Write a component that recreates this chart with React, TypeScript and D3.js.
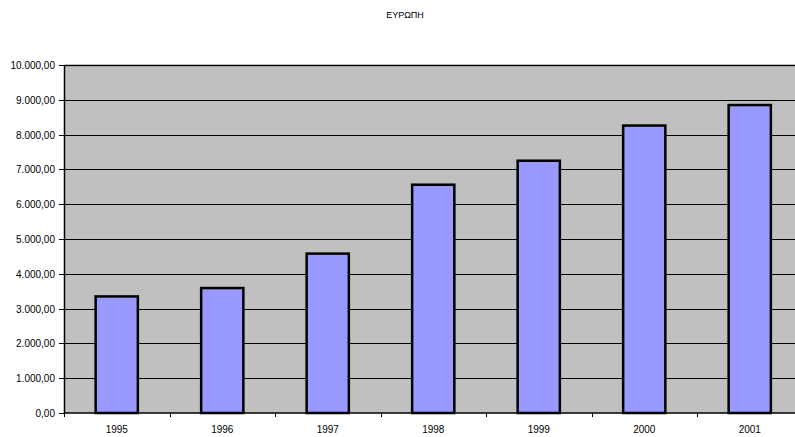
import React from 'react';
import * as d3 from 'd3';

const years = ['1995', '1996', '1997', '1998', '1999', '2000', '2001'];
const values = [3350, 3590, 4580, 6560, 7250, 8260, 8850];
const yTicks = [0, 1000, 2000, 3000, 4000, 5000, 6000, 7000, 8000, 9000, 10000];

const W = 795;
const H = 437;
// plot area runs slightly past the right edge of the picture
const margin = { top: 65, left: 64, bottom: 24 };
const innerW = 738.5;

const locale = d3.formatLocale({ decimal: ',', thousands: '.', grouping: [3], currency: ['', ''] });
const fmt = locale.format(',.2f');

export default function App() {
  const innerH = H - margin.top - margin.bottom;

  const xOuter = d3.scaleBand().domain(years).range([0, innerW]);
  const x = d3.scaleBand().domain(years).range([0, innerW]).paddingInner(0.6).paddingOuter(0.3);
  const y = d3.scaleLinear().domain([0, 10000]).range([innerH, 0]);

  return (
    <svg
      width={W}
      height={H}
      style={{ position: 'absolute', left: 0, top: 0, fontFamily: 'Arial, "Liberation Sans", sans-serif' }}
    >
      <rect width={W} height={H} fill="#fff" />
      <text x={405} y={18} textAnchor="middle" fontSize={9} fill="#000">ΕΥΡΩΠΗ</text>
      <g transform={`translate(${margin.left},${margin.top})`}>
        <rect width={innerW} height={innerH} fill="#c0c0c0" />
        <line x1={0} x2={innerW} y1={0.5} y2={0.5} stroke="#808080" strokeWidth={2} />
        {yTicks.slice(1).map(t => (
          <line key={t} x1={0} x2={innerW} y1={Math.round(y(t)) + 0.5} y2={Math.round(y(t)) + 0.5} stroke="#000" strokeWidth={1} />
        ))}
        {years.map((yr, i) => (
          <rect
            key={yr}
            x={x(yr)}
            y={y(values[i])}
            width={x.bandwidth()}
            height={innerH - y(values[i])}
            fill="#9999ff"
            stroke="#000"
            strokeWidth={2.5}
          />
        ))}
        {/* y axis */}
        <line x1={0.5} x2={0.5} y1={0} y2={innerH} stroke="#000" strokeWidth={1.5} />
        {yTicks.map(t => (
          <g key={t} transform={`translate(0,${Math.round(y(t)) + 0.5})`}>
            <line x1={-5} x2={0} stroke="#000" />
            <text x={-9} dy="0.35em" textAnchor="end" fontSize={10} fill="#000">{fmt(t)}</text>
          </g>
        ))}
        {/* x axis */}
        <line x1={0} x2={innerW} y1={innerH} y2={innerH} stroke="#000" strokeWidth={1.5} />
        {years.map(yr => (
          <line key={'t' + yr} x1={Math.round(xOuter(yr)!) + 0.5} x2={Math.round(xOuter(yr)!) + 0.5} y1={innerH} y2={innerH + 4} stroke="#000" />
        ))}
        {years.map(yr => (
          <text key={'l' + yr} x={xOuter(yr)! + xOuter.bandwidth() / 2} y={innerH + 20} textAnchor="middle" fontSize={10} fill="#000">{yr}</text>
        ))}
      </g>
    </svg>
  );
}
